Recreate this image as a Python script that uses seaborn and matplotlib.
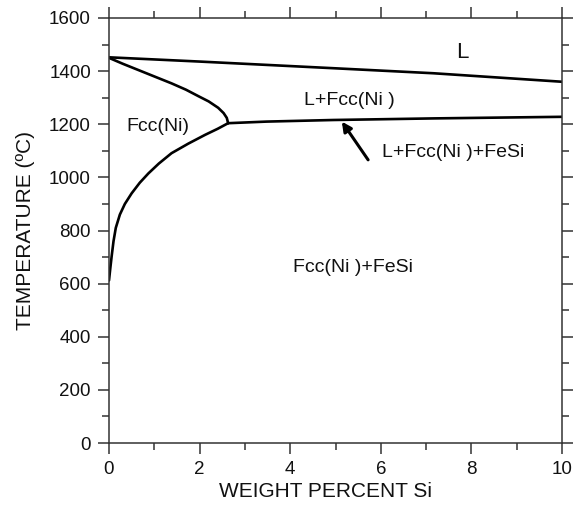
import matplotlib
matplotlib.use('Agg')
import matplotlib.pyplot as plt
import seaborn as sns
import pandas as pd

# phase boundaries, wt% Si vs temperature (C)
LIQUIDUS_X = [0.0, 2.0, 4.95, 7.16, 10.0]
LIQUIDUS_T = [1452, 1436, 1411, 1392, 1360]

SOLIDUS_X = [0.0, 0.3, 0.65, 1.0, 1.38, 1.7, 1.97, 2.2, 2.41, 2.53, 2.60, 2.63]
SOLIDUS_T = [1450, 1428, 1404, 1380, 1354, 1330, 1306, 1286, 1262, 1242, 1224, 1204]

SOLVUS_X = [0.0, 0.03, 0.06, 0.1, 0.15, 0.24, 0.35, 0.5, 0.68, 0.87, 1.1, 1.38,
            1.75, 2.12, 2.4, 2.63]
SOLVUS_T = [612, 660, 705, 760, 810, 860, 900, 940, 980, 1015, 1052, 1091,
            1127, 1160, 1183, 1204]

EUTECTIC_X = [2.63, 3.48, 4.95, 7.16, 10.0]
EUTECTIC_T = [1204, 1210, 1216, 1222, 1228]

LABELS = ['L', 'L+Fcc(Ni )', 'L+Fcc(Ni )+FeSi', 'Fcc(Ni)', 'Fcc(Ni )+FeSi']
LABEL_X = [7.81, 5.30, 7.59, 1.07, 5.39]
LABEL_T = [1472, 1291, 1092, 1190, 659]
LABEL_SIZE = [16, 14, 14, 14, 14]

ARROW_HEAD = (5.14, 1210)
ARROW_TAIL = (5.72, 1066)

X_TICKS = [0, 2, 4, 6, 8, 10]
T_TICKS = [0, 200, 400, 600, 800, 1000, 1200, 1400, 1600]

sns.set_style('ticks')
plt.rcParams['font.family'] = ['Liberation Sans', 'DejaVu Sans']

fig = plt.figure(figsize=(5.86, 5.08), dpi=100)
ax = fig.add_axes([109 / 586, 1 - 443 / 508, 453 / 586, 425 / 508])

curves = [
    (LIQUIDUS_X, LIQUIDUS_T),
    (SOLIDUS_X, SOLIDUS_T),
    (SOLVUS_X, SOLVUS_T),
    (EUTECTIC_X, EUTECTIC_T),
]
for xs, ts in curves:
    df = pd.DataFrame({'x': xs, 't': ts})
    sns.lineplot(data=df, x='x', y='t', sort=False, color='black',
                 linewidth=1.9, ax=ax, estimator=None)

for txt, x, t, fs in zip(LABELS, LABEL_X, LABEL_T, LABEL_SIZE):
    ax.text(x, t, txt, ha='center', va='center', fontsize=fs, color='#111111')

ax.annotate('', xy=ARROW_HEAD, xytext=ARROW_TAIL,
            arrowprops=dict(arrowstyle='-|>', color='black', lw=2.2,
                            mutation_scale=14, shrinkA=0, shrinkB=0))

ax.set_xlim(0, 10)
ax.set_ylim(0, 1600)
ax.set_xticks(X_TICKS)
ax.set_yticks(T_TICKS)
ax.set_xticks([1, 3, 5, 7, 9], minor=True)
ax.set_yticks([100, 300, 500, 700, 900, 1100, 1300, 1500], minor=True)
ax.tick_params(which='both', direction='out', top=True, right=True,
               labeltop=False, labelright=False, color='#333333',
               labelsize=13.5, width=1.1, labelcolor='#111111')
ax.tick_params(which='major', length=8, pad=5)
ax.tick_params(which='minor', length=5)
for sp in ax.spines.values():
    sp.set_visible(True)
    sp.set_color('#333333')
    sp.set_linewidth(1.1)

ax.set_xlabel('WEIGHT PERCENT Si', fontsize=15, color='#111111')
ax.set_ylabel('TEMPERATURE (ºC)', fontsize=15, color='#111111')
ax.xaxis.label.set_va('center')
ax.yaxis.label.set_va('center')
ax.xaxis.set_label_coords(0.477, -0.115)
ax.yaxis.set_label_coords(-0.185, 0.5)

fig.savefig('out.png', dpi=100)
